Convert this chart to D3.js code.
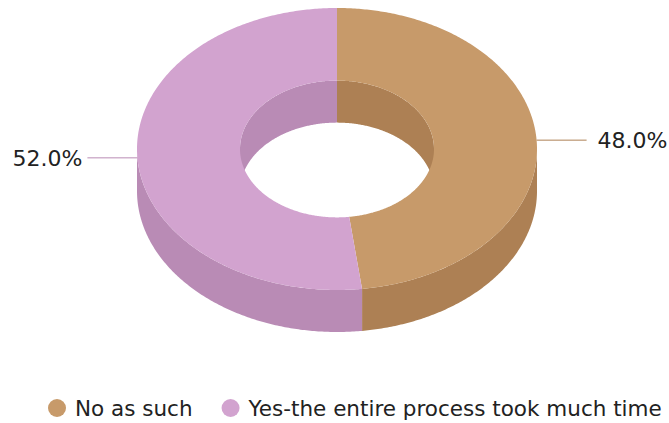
<!DOCTYPE html>
<html><head><meta charset="utf-8">
<script src="https://cdn.jsdelivr.net/npm/d3@7"></script>
<style>html,body{margin:0;padding:0;background:#fff;}svg{display:block;font-family:"DejaVu Sans",sans-serif;}</style>
</head><body>
<script>
const categories = ["No as such", "Yes-the entire process took much time"];
const values = [48.0, 52.0];
const labels = ["48.0%", "52.0%"];
const topColors = ["#c79a6a", "#d2a3cf"];
const sideColors = ["#ad8054", "#b98bb5"];

const W = 669, H = 423;
const cx = 337, cy = 149, rx = 200, tilt = 0.705, rIn = 97, depth = 42;

const svg = d3.select("body").append("svg").attr("width", W).attr("height", H);
const pie = d3.pie().sort(null).value(d => d)(values);

const px = (r, a) => cx + r * Math.sin(a);
const py = (r, a, dz = 0) => cy - r * tilt * Math.cos(a) + dz;
const line = d3.line();
function arcPts(r, a0, a1, dz) {
  const n = Math.max(2, Math.ceil(Math.abs(a1 - a0) / 0.01));
  return d3.range(n + 1).map(i => { const a = a0 + (a1 - a0) * i / n; return [px(r, a), py(r, a, dz)]; });
}
function clip(a0, a1, lo, hi) { const s = Math.max(a0, lo), e = Math.min(a1, hi); return s < e ? [s, e] : null; }

const g = svg.append("g");
// outer walls (front half)
pie.forEach((d, i) => {
  const c = clip(d.startAngle, d.endAngle, Math.PI / 2, 3 * Math.PI / 2);
  if (!c) return;
  const pts = arcPts(rx, c[0], c[1], 0).concat(arcPts(rx, c[1], c[0], depth));
  g.append("path").attr("d", line(pts) + "Z").attr("fill", sideColors[i]);
});
// inner walls (back half)
pie.forEach((d, i) => {
  [[-Math.PI / 2, Math.PI / 2], [3 * Math.PI / 2, 5 * Math.PI / 2]].forEach(([lo, hi]) => {
    const c = clip(d.startAngle, d.endAngle, lo, hi);
    if (!c) return;
    const pts = arcPts(rIn, c[0], c[1], 0).concat(arcPts(rIn, c[1], c[0], depth));
    g.append("path").attr("d", line(pts) + "Z").attr("fill", sideColors[i]);
  });
});
// top faces
pie.forEach((d, i) => {
  const pts = arcPts(rx, d.startAngle, d.endAngle, 0).concat(arcPts(rIn, d.endAngle, d.startAngle, 0));
  g.append("path").attr("d", line(pts) + "Z").attr("fill", topColors[i]);
});
// labels
pie.forEach((d, i) => {
  const a = (d.startAngle + d.endAngle) / 2;
  const x0 = px(rx, a), y0 = py(rx, a);
  const right = Math.sin(a) > 0;
  const x1 = right ? x0 + 50 : x0 - 50;
  svg.append("line").attr("x1", x0).attr("y1", y0).attr("x2", x1).attr("y2", y0)
    .attr("stroke", sideColors[i]).attr("stroke-width", 1);
  svg.append("text").attr("x", right ? x1 + 11 : x1 - 5).attr("y", y0 + 8)
    .attr("text-anchor", right ? "start" : "end")
    .attr("font-size", 22).attr("fill", "#222").text(labels[i]);
});
// legend
const leg = svg.append("g");
let lx = 57;
categories.forEach((c, i) => {
  leg.append("circle").attr("cx", lx).attr("cy", 408).attr("r", 9).attr("fill", topColors[i]);
  const t = leg.append("text").attr("x", lx + 18).attr("y", 416).attr("font-size", 21.5).attr("fill", "#222").text(c);
  lx += 18 + t.node().getComputedTextLength() + 38;
});
</script>
</body></html>
